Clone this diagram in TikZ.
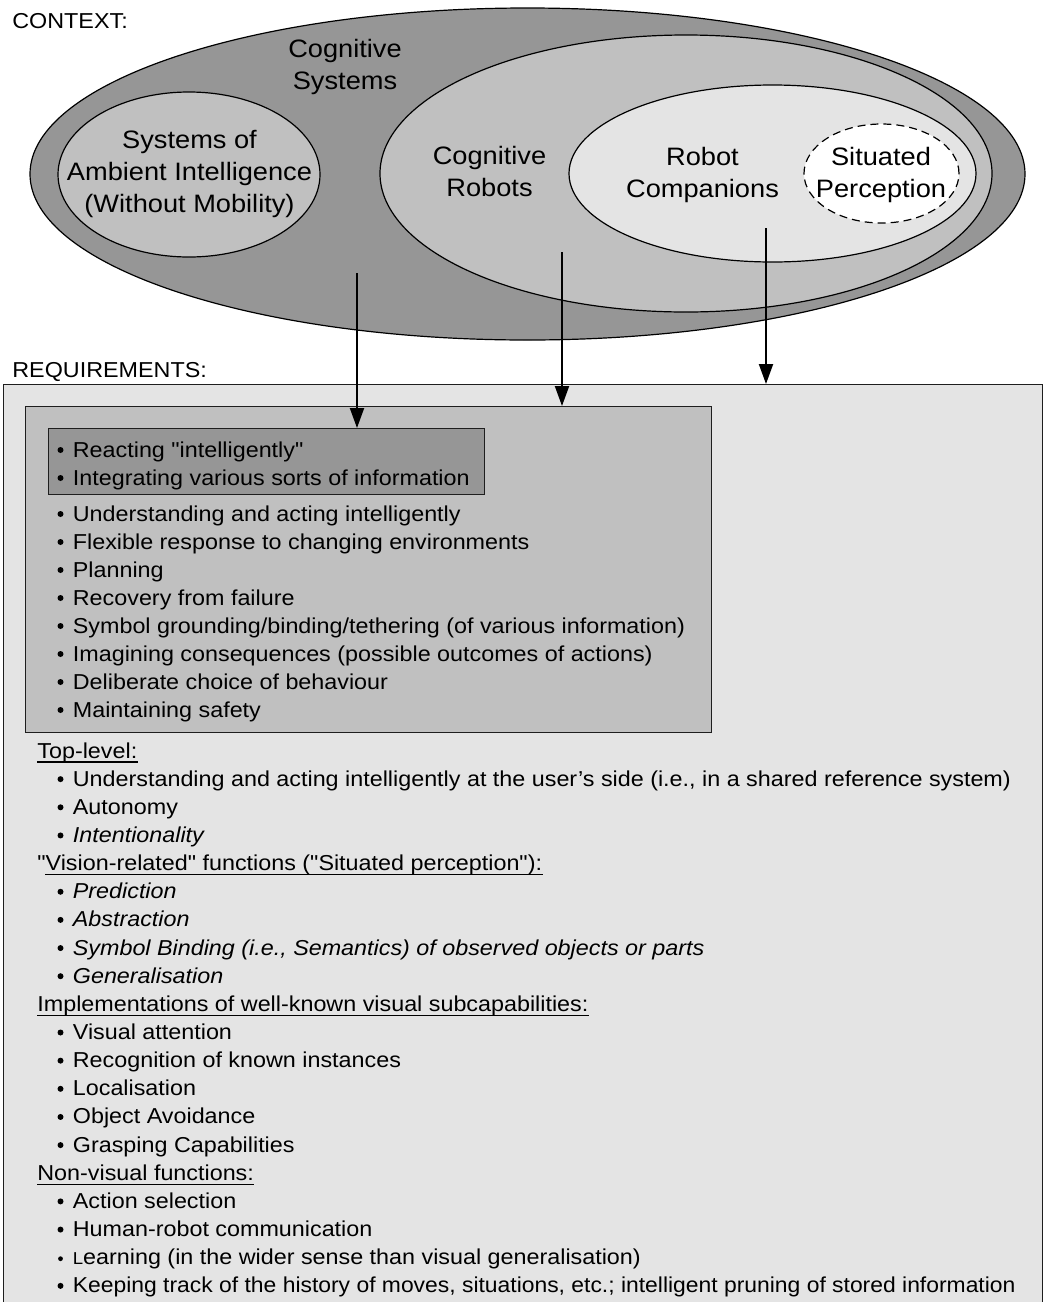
\documentclass[tikz,border=0pt]{standalone}
\usepackage{fontspec}
\setmainfont{Liberation Sans}[FakeStretch=1.08, Ligatures=TeXOff]
\usetikzlibrary{shapes.geometric,arrows.meta}
\definecolor{dkgray}{HTML}{969696}
\definecolor{mdgray}{HTML}{C0C0C0}
\definecolor{ltgray}{HTML}{E4E4E4}
\definecolor{edgegray}{HTML}{1E1E1E}

% one bulleted line: name, baseline, text
\newcommand\listline[3]{%
  \node[bulletmark] (#1b) at (60.5,#2-7) {};
  \node[entry] (#1) at (72.5,#2) {#3};}
% an underlined heading: name, baseline, text
\newcommand\heading[3]{%
  \node[lbl] (#1) at (37,#2) {#3};
  \draw[underl] ([yshift=-2pt]#1.base west) -- ([yshift=-2pt]#1.base east);}

\begin{document}
\begin{tikzpicture}[x=0.5pt,y=-0.5pt,
  region/.style={ellipse, draw=black, line width=0.6pt, inner sep=0pt},
  panel/.style={rectangle, draw=edgegray, line width=0.7pt, inner sep=0pt, anchor=north west},
  setlabel/.style={anchor=base, inner sep=0pt, font=\fontsize{12.6}{16}\selectfont},
  lbl/.style={anchor=base west, inner sep=0pt, font=\fontsize{10.8}{14}\selectfont},
  entry/.style={anchor=base west, inner sep=0pt, font=\fontsize{10.8}{14}\selectfont},
  bulletmark/.style={circle, fill=black, inner sep=0pt, minimum size=3pt},
  flow/.style={line width=1pt, -{Triangle[length=10pt,width=7pt]}},
  underl/.style={line width=0.65pt}]

\useasboundingbox (0,0) rectangle (1043,1302);
\fill[white] (0,0) rectangle (1043,1302);
\clip (0,0) rectangle (1043,1302);

% ---- context: nested sets ----
\node[lbl] (ctx) at (12,28) {CONTEXT:};
\node[region, fill=dkgray, minimum width=497.5pt, minimum height=166pt] (cogsys) at (527.5,174) {};
\node[region, fill=mdgray, minimum width=131pt, minimum height=82.5pt] (ambient) at (189,174.5) {};
\node[region, fill=mdgray, minimum width=306pt, minimum height=138.5pt] (cogrob) at (686,173.5) {};
\node[region, fill=ltgray, minimum width=203.5pt, minimum height=88.5pt] (robcomp) at (772.5,173.5) {};
\node[region, fill=white, dash pattern=on 4pt off 2.5pt, minimum width=77.5pt, minimum height=49.5pt] (sitper) at (881.5,173.5) {};

\node[setlabel] (lcs) at (345,57) {\begin{tabular}[t]{@{}c@{}}Cognitive\\Systems\end{tabular}};
\node[setlabel] (lai) at (189.5,148) {\begin{tabular}[t]{@{}c@{}}Systems of\\Ambient Intelligence\\(Without Mobility)\end{tabular}};
\node[setlabel] (lcr) at (489.5,164) {\begin{tabular}[t]{@{}c@{}}Cognitive\\Robots\end{tabular}};
\node[setlabel] (lrc) at (702.5,165) {\begin{tabular}[t]{@{}c@{}}Robot\\Companions\end{tabular}};
\node[setlabel] (lsp) at (881,165) {\begin{tabular}[t]{@{}c@{}}Situated\\Perception\end{tabular}};

% ---- requirements panels ----
\node[lbl] (reqt) at (12,377) {REQUIREMENTS:};
\node[panel, fill=ltgray, minimum width=519.5pt, minimum height=470pt] (req) at (3,384) {};
\node[panel, fill=mdgray, minimum width=343pt, minimum height=163pt] (core) at (25,406) {};
\node[panel, fill=dkgray, minimum width=218pt, minimum height=33pt] (basic) at (48,428) {};

% ---- arrows from the sets to their requirements ----
\coordinate (s1) at (357,273);
\coordinate (s2) at (562,252);
\coordinate (s3) at (766,228);
\draw[flow] (s1) -- (s1 |- basic.north);
\draw[flow] (s2) -- (s2 |- core.north);
\draw[flow] (s3) -- (s3 |- req.north);

% ---- requirement lists ----
\listline{r1}{457}{Reacting "intelligently"}
\listline{r2}{485}{Integrating various sorts of information}
\listline{r3}{521}{Understanding and acting intelligently}
\listline{r4}{549}{Flexible response to changing environments}
\listline{r5}{577}{Planning}
\listline{r6}{605}{Recovery from failure}
\listline{r7}{633}{Symbol grounding/binding/tethering (of various information)}
\listline{r8}{661}{Imagining consequences (possible outcomes of actions)}
\listline{r9}{689}{Deliberate choice of behaviour}
\listline{r10}{717}{Maintaining safety}

\heading{h1}{758}{Top-level:}
\listline{t1}{786.15}{Understanding and acting intelligently at the user’s side (i.e., in a shared reference system)}
\listline{t2}{814.3}{Autonomy}
\listline{t3}{842.45}{\itshape Intentionality}

\node[lbl] (h2) at (37,870.6) {"Vision-related" functions ("Situated perception"):};
\draw[underl] ([xshift=4.1pt,yshift=-2pt]h2.base west) -- ([yshift=-2pt]h2.base east);
\listline{v1}{898.75}{\itshape Prediction}
\listline{v2}{926.9}{\itshape Abstraction}
\listline{v3}{955.05}{\itshape Symbol Binding (i.e., Semantics) of observed objects or parts}
\listline{v4}{983.2}{\itshape Generalisation}

\heading{h3}{1011.35}{Implementations of well-known visual subcapabilities:}
\listline{i1}{1039.5}{Visual attention}
\listline{i2}{1067.65}{Recognition of known instances}
\listline{i3}{1095.8}{Localisation}
\listline{i4}{1123.95}{Object Avoidance}
\listline{i5}{1152.1}{Grasping Capabilities}

\heading{h4}{1180.25}{Non-visual functions:}
\listline{n1}{1208.4}{Action selection}
\listline{n2}{1236.55}{Human-robot communication}
\node[bulletmark, minimum size=2.4pt] (n3b) at (60.5,1264.7-6) {};
\node[entry] (n3) at (72.5,1264.7) {{\fontsize{8.6}{10}\selectfont L}earning (in the wider sense than visual generalisation)};
\listline{n4}{1292.85}{\scalebox{0.981}[1]{Keeping track of the history of moves, situations, etc.; intelligent pruning of stored information}}

\end{tikzpicture}
\end{document}
